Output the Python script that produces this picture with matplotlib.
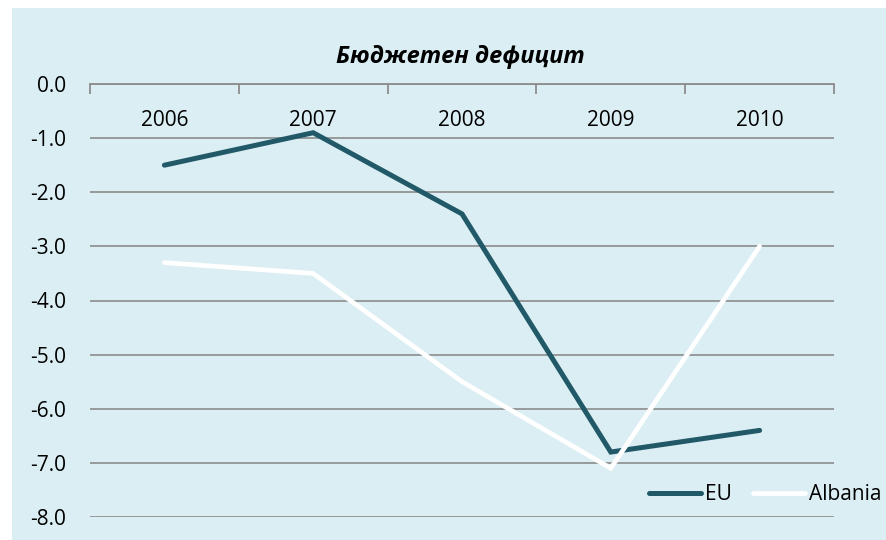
import matplotlib.pyplot as plt
from matplotlib.patches import Rectangle
from matplotlib.lines import Line2D

# data
years = ["2006", "2007", "2008", "2009", "2010"]
eu = [-1.5, -0.9, -2.4, -6.8, -6.4]
albania = [-3.3, -3.5, -5.5, -7.1, -3.0]
y_ticks = [0, -1, -2, -3, -4, -5, -6, -7, -8]

BG = "#DAEEF3"
EU_COLOR = "#215968"
GRID = "#8C8C8C"

plt.rcParams['font.family'] = ['Open Sans', 'DejaVu Sans']

W, H = 886, 540
fig = plt.figure(figsize=(W / 100, H / 100), dpi=100)
fig.patch.set_facecolor("white")
# light blue chart area, with a thin white margin at top and left
fig.patches.append(Rectangle((12 / W, 0), 1 - 12 / W, 1 - 8 / H,
                             transform=fig.transFigure, facecolor=BG,
                             edgecolor="none", zorder=-5))

ax = fig.add_axes([90 / W, 1 - 517 / H, (834 - 90) / W, (517 - 84) / H])
ax.set_facecolor("none")

x = list(range(len(years)))
ax.plot(x, eu, color=EU_COLOR, lw=3.6, solid_capstyle="round",
        solid_joinstyle="miter", zorder=3)
ax.plot(x, albania, color="white", lw=3.4, solid_capstyle="round",
        solid_joinstyle="miter", zorder=3)

ax.set_xlim(-0.5, len(years) - 0.5)
ax.set_ylim(-8, 0)

# horizontal gridlines
ax.set_yticks(y_ticks)
ax.set_yticklabels([f"{v:.1f}" for v in y_ticks], fontsize=15)
ax.yaxis.grid(True, color=GRID, lw=1.2)
ax.tick_params(axis="y", length=0, pad=17)
ax.set_axisbelow(True)

# category axis sits at y=0 (top), ticks point down into the plot
for s in ["left", "right", "bottom"]:
    ax.spines[s].set_visible(False)
ax.spines["top"].set_color(GRID)
ax.spines["top"].set_linewidth(1.3)
ax.xaxis.tick_top()
ax.set_xticks([i - 0.5 for i in range(len(years) + 1)])
ax.set_xticklabels([])
ax.tick_params(axis="x", direction="in", length=7, width=1.3, color=GRID)

for i, yr in enumerate(years):
    ax.text(i, -0.68, yr, ha="center", va="center", fontsize=15)

fig.text(460 / W, 1 - 57 / H, "Бюджетен дефицит", ha="center", va="center",
         fontsize=17, fontweight="bold", fontstyle="italic")

handles = [Line2D([], [], color=EU_COLOR, lw=3.6, solid_capstyle="round"),
           Line2D([], [], color="white", lw=3.4, solid_capstyle="round")]
fig.legend(handles, ["EU", "Albania"], loc="center left",
           bbox_to_anchor=(649 / W, 1 - 495 / H), ncol=2, frameon=False,
           fontsize=15, handlelength=2.5, handletextpad=0.2,
           columnspacing=1.0, borderpad=0, borderaxespad=0)

fig.savefig("out.png", dpi=100, facecolor=fig.get_facecolor())
